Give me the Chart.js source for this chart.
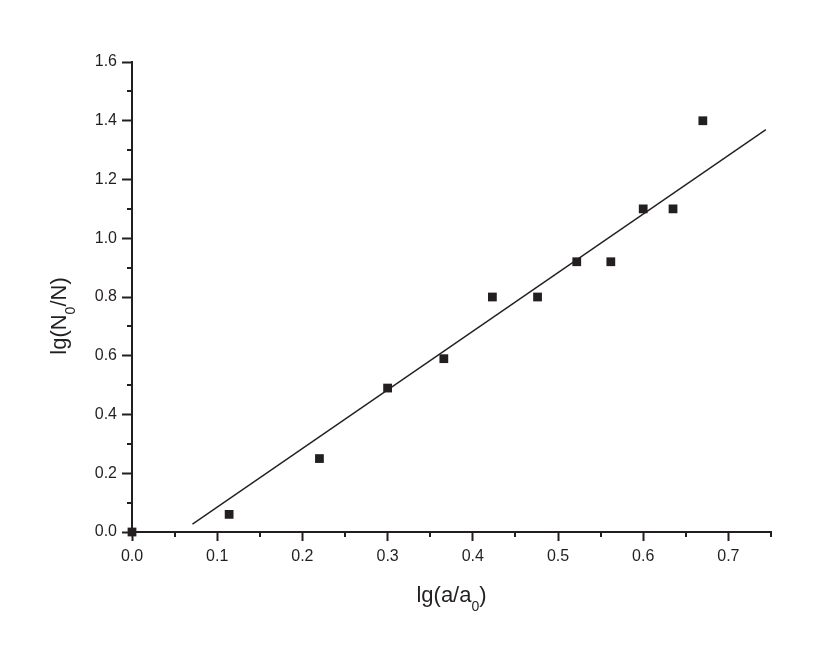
<!DOCTYPE html>
<html>
<head>
<meta charset="utf-8">
<script src="https://cdn.jsdelivr.net/npm/chart.js@4/dist/chart.umd.min.js"></script>
<style>
  html, body { margin: 0; padding: 0; background: #fff; }
  #wrap { width: 817px; height: 663px; }
</style>
</head>
<body>
<div id="wrap"><canvas id="c" width="817" height="663"></canvas></div>
<script>
const xVals = [0, 0.114, 0.22, 0.3, 0.366, 0.423, 0.476, 0.522, 0.562, 0.6, 0.635, 0.67];
const yVals = [0, 0.06, 0.25, 0.49, 0.59, 0.8, 0.8, 0.92, 0.92, 1.1, 1.1, 1.4];

// linear fit, start and end of the drawn line
const fitX = [0.071, 0.744];
const fitY = [0.027, 1.37];

const xRange = [0, 0.75];
const yRange = [0, 1.6];

const INK = "#231f20";
const FONT = '"Liberation Sans", Arial, Helvetica, sans-serif';

const isMajor = (v, step) => Math.abs(v / step - Math.round(v / step)) < 1e-6;

// minor ticks are shorter than the major ones
const minorTicks = {
  id: "minorTicks",
  afterDatasetsDraw(chart) {
    const { ctx, scales: { x, y } } = chart;
    ctx.save();
    ctx.strokeStyle = INK;
    ctx.lineWidth = 2;
    ctx.beginPath();
    x.ticks.forEach(t => {
      if (isMajor(t.value, 0.1)) return;
      const px = Math.round(x.getPixelForValue(t.value));
      ctx.moveTo(px, x.top);
      ctx.lineTo(px, x.top + 5);
    });
    y.ticks.forEach(t => {
      if (isMajor(t.value, 0.2)) return;
      const py = Math.round(y.getPixelForValue(t.value));
      ctx.moveTo(y.right, py);
      ctx.lineTo(y.right - 5, py);
    });
    ctx.stroke();
    ctx.restore();
  },
};

// axis titles with a subscript 0
function drawSubText(ctx, parts, cx, cy) {
  let w = 0;
  parts.forEach(p => { ctx.font = p.size + "px " + FONT; w += ctx.measureText(p.t).width; });
  let x = cx - w / 2;
  parts.forEach(p => {
    ctx.font = p.size + "px " + FONT;
    ctx.fillText(p.t, x, cy + (p.dy || 0));
    x += ctx.measureText(p.t).width;
  });
}

const axisTitles = {
  id: "axisTitles",
  afterDraw(chart) {
    const { ctx, chartArea: a } = chart;
    ctx.save();
    ctx.fillStyle = INK;
    ctx.textBaseline = "alphabetic";
    ctx.textAlign = "left";
    drawSubText(ctx, [
      { t: "lg(a/a", size: 22 },
      { t: "0", size: 14, dy: 9 },
      { t: ")", size: 22 },
    ], (a.left + a.right) / 2, 602);

    ctx.translate(66, (a.top + a.bottom) / 2 + 19);
    ctx.rotate(-Math.PI / 2);
    drawSubText(ctx, [
      { t: "lg(N", size: 22 },
      { t: "0", size: 14, dy: 9 },
      { t: "/N)", size: 22 },
    ], 0, 0);
    ctx.restore();
  },
};

const tickFont = { family: FONT, size: 16 };

new Chart(document.getElementById("c"), {
  type: "scatter",
  data: {
    datasets: [
      {
        label: "data",
        data: xVals.map((x, i) => ({ x, y: yVals[i] })),
        pointStyle: "rect",
        pointRadius: 6.2,
        pointBorderWidth: 0,
        pointBackgroundColor: INK,
        showLine: false,
        clip: false,
      },
      {
        label: "fit",
        data: fitX.map((x, i) => ({ x, y: fitY[i] })),
        showLine: true,
        borderColor: INK,
        borderWidth: 1.4,
        pointRadius: 0,
        fill: false,
      },
    ],
  },
  options: {
    responsive: false,
    animation: false,
    layout: { padding: { left: 0, top: 62, right: 46, bottom: 0 } },
    plugins: { legend: { display: false }, tooltip: { enabled: false } },
    scales: {
      x: {
        type: "linear",
        min: xRange[0],
        max: xRange[1],
        afterFit: s => { s.height = 131; },
        ticks: {
          stepSize: 0.05,
          autoSkip: false,
          maxRotation: 0,
          padding: 6,
          color: INK,
          font: tickFont,
          callback: v => (isMajor(v, 0.1) ? v.toFixed(1) : ""),
        },
        grid: {
          drawOnChartArea: false,
          tickLength: 9,
          tickWidth: 2,
          tickColor: c => (c.tick && isMajor(c.tick.value, 0.1) ? INK : "rgba(0,0,0,0)"),
        },
        border: { display: true, color: INK, width: 2 },
      },
      y: {
        type: "linear",
        min: yRange[0],
        max: yRange[1],
        afterFit: s => { s.width = 132; },
        ticks: {
          stepSize: 0.1,
          autoSkip: false,
          padding: 5,
          color: INK,
          font: tickFont,
          callback: v => (isMajor(v, 0.2) ? v.toFixed(1) : ""),
        },
        grid: {
          drawOnChartArea: false,
          tickLength: 10,
          tickWidth: 2,
          tickColor: c => (c.tick && isMajor(c.tick.value, 0.2) ? INK : "rgba(0,0,0,0)"),
        },
        border: { display: true, color: INK, width: 2 },
      },
    },
  },
  plugins: [minorTicks, axisTitles],
});
</script>
</body>
</html>
